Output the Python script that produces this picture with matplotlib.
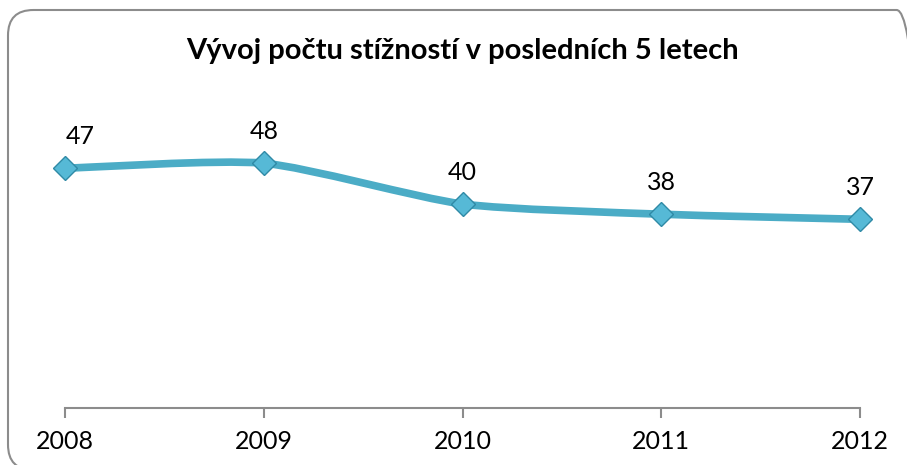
import matplotlib
matplotlib.use("Agg")
import matplotlib.pyplot as plt
from matplotlib.patches import FancyBboxPatch, PathPatch
from matplotlib.path import Path
import numpy as np

years = ["2008", "2009", "2010", "2011", "2012"]
complaints = [47, 48, 40, 38, 37]
title = "Vývoj počtu stížností v posledních 5 letech"

W, H = 907, 465
fig = plt.figure(figsize=(W / 100, H / 100), dpi=100)
plt.rcParams['font.family'] = ['Lato', 'DejaVu Sans']

# rounded outer frame (extends slightly past the right and bottom edges)
frame = FancyBboxPatch((8 / W, -5 / H), (922 - 8) / W, (455 + 5) / H,
                       boxstyle="round,pad=0,rounding_size=0.028",
                       transform=fig.transFigure, fill=False,
                       edgecolor="#8c8c8c", linewidth=1.5,
                       mutation_aspect=W / H)
fig.patches.append(frame)

ax = fig.add_axes([65 / W, (H - 408) / H, (860 - 65) / W, (408 - 102) / H])
x = np.arange(len(years))
y = np.array(complaints, dtype=float)

# lightly smoothed line (Catmull-Rom -> cubic Bezier), as Excel's smoothed line
k = 9.0
verts = [(x[0], y[0])]
codes = [Path.MOVETO]
n = len(x)
for i in range(n - 1):
    p0 = np.array([x[max(i - 1, 0)], y[max(i - 1, 0)]])
    p1 = np.array([x[i], y[i]])
    p2 = np.array([x[i + 1], y[i + 1]])
    p3 = np.array([x[min(i + 2, n - 1)], y[min(i + 2, n - 1)]])
    c1 = p1 + (p2 - p0) / k
    c2 = p2 - (p3 - p1) / k
    verts += [tuple(c1), tuple(c2), tuple(p2)]
    codes += [Path.CURVE4] * 3
ax.add_patch(PathPatch(Path(verts, codes), facecolor="none",
                       edgecolor="#4bacc6", linewidth=5.5, capstyle="round",
                       joinstyle="round", zorder=2, clip_on=False))
ax.plot(x, y, linestyle="none", marker="D", markersize=12,
        markerfacecolor="#56b9d6", markeredgecolor="#2f8aa6",
        markeredgewidth=1.0, zorder=3, clip_on=False)

for i, (xi, yi) in enumerate(zip(x, y)):
    dx = 11 if i == 0 else 0
    ax.annotate(f"{int(yi)}", (xi, yi), xytext=(dx, 23),
                textcoords="offset points", ha="center", va="center",
                fontsize=18, color="black")

ax.set_xlim(0, n - 1)
ax.set_ylim(0, 60)
ax.set_xticks(x)
ax.set_xticklabels(years, fontsize=18)
ax.set_yticks([])
for s in ["top", "right", "left"]:
    ax.spines[s].set_visible(False)
ax.spines["bottom"].set_color("#8c8c8c")
ax.spines["bottom"].set_linewidth(1.5)
ax.tick_params(axis="x", direction="out", length=7, width=1.5,
               color="#8c8c8c", pad=9)
ax.patch.set_alpha(0)

fig.text(462 / W, (H - 51) / H, title, ha="center", va="center",
         fontsize=21, fontweight="bold")

fig.savefig("out.png", dpi=100)
